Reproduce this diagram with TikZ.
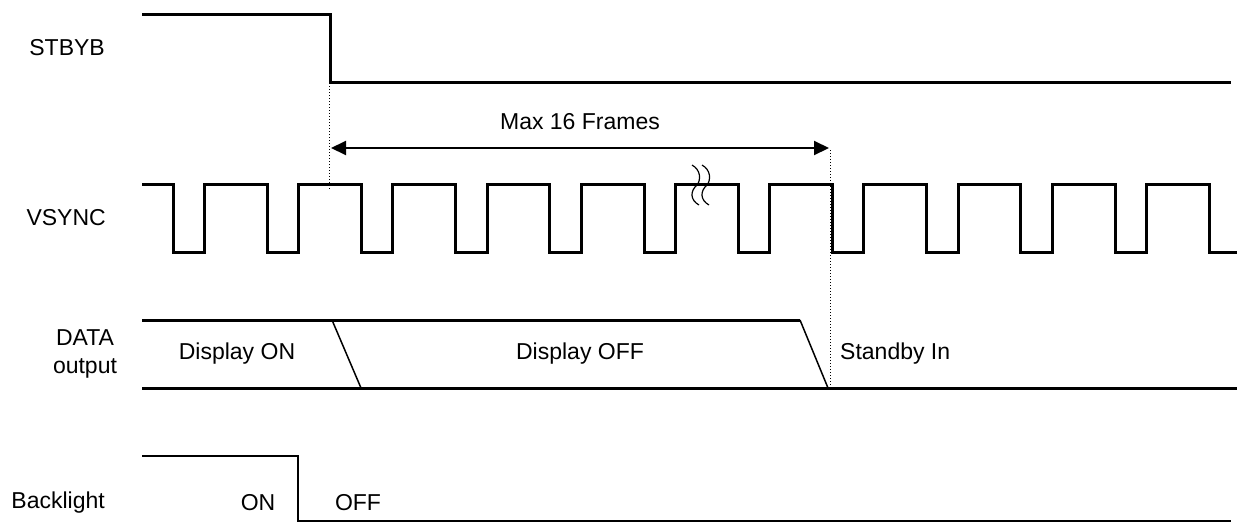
\documentclass[tikz,border=0pt]{standalone}
\usepackage{fontspec}
\setmainfont{Liberation Sans}
\usetikzlibrary{arrows.meta}
\begin{document}
\begin{tikzpicture}[x=1pt,y=-1pt,
  wave/.style={line width=3pt, line join=miter},
  thinwave/.style={line width=2pt, line join=miter},
  slope/.style={line width=1.5pt},
  lbl/.style={font=\fontsize{23}{28}\selectfont, inner sep=0pt},
  guide/.style={line width=1pt, dotted},
  brk/.style={line width=1.2pt}]
\useasboundingbox (0,0) rectangle (1237,523);
% STBYB
\draw[wave] (142,14) -- (330,14) -- (330,82) -- (1231,82);
% VSYNC
\draw[wave] (142,184)
  \foreach \i in {0,...,10} { -- ({173+94.2*\i},184) -- ({173+94.2*\i},252) -- ({204.5+94.2*\i},252) -- ({204.5+94.2*\i},184) }
  -- (1209.2,184) -- (1209.2,252) -- (1237,252);
% break mark
\draw[brk] (692,165) .. controls (701,170) and (701,180) .. (697,185) .. controls (690,191) and (690,200) .. (699,205);
\draw[brk] (702,165) .. controls (711,170) and (711,180) .. (707,185) .. controls (700,191) and (700,200) .. (709,205);
% DATA
\draw[wave] (142,320) -- (800,320);
\draw[wave] (142,388) -- (1237,388);
\draw[slope] (332,320) -- (361,388);
\draw[slope] (800,320) -- (828,388);
% Backlight
\draw[thinwave] (142,456) -- (298,456) -- (298,521) -- (1231,521);
% guides
\coordinate (g1t) at (329,86);
\coordinate (g1b) at (329,190);
\coordinate (g2t) at (830,150);
\coordinate (g2b) at (830,388);
\draw[guide] (g1t) -- (g1b);
\draw[guide] (g2t) -- (g2b);
% arrow
\coordinate (a1) at (331,148);
\coordinate (a2) at (829,148);
\draw[line width=2pt, {Triangle[length=15pt,width=14pt]}-{Triangle[length=15pt,width=14pt]}] (a1) -- (a2);
\node[lbl] (max) at (580,122) {Max 16 Frames};
% labels
\node[lbl, anchor=east] (stbyb) at (105,48) {STBYB};
\node[lbl, anchor=east] (vsync) at (106,218) {VSYNC};
\node[lbl, align=center] (data) at (85,354) {DATA\\output};
\node[lbl, anchor=east] (bl) at (105,503) {Backlight};
\node[lbl] (don) at (237,354) {Display ON};
\node[lbl] (doff) at (580,354) {Display OFF};
\node[lbl, anchor=west] (stdby) at (840,354) {Standby In};
\node[lbl] (on) at (258,503) {ON};
\node[lbl] (off) at (358,503) {OFF};
\end{tikzpicture}
\end{document}
